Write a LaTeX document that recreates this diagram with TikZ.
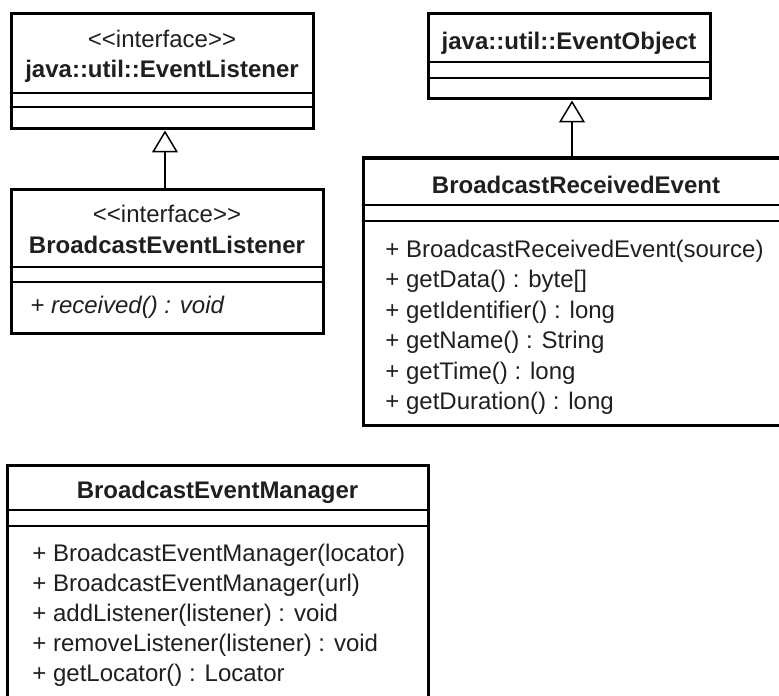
\documentclass[tikz,border=0pt]{standalone}
\usepackage{fontspec}
\setmainfont{Liberation Sans}
\usetikzlibrary{arrows.meta}

\begin{document}
\begin{tikzpicture}[x=0.5pt, y=-0.5pt, font=\fontsize{12}{15}\selectfont]
                \clip (0,0) rectangle (779,695);
                % class boxes
                \begin{scope}[every node/.style={draw, line width=1.5pt, rectangle, inner sep=0}]
                        \node[minimum width=151pt, minimum height=57.5pt] (EL) at (162,71.5) {};
                        \node[minimum width=156pt, minimum height=72pt] (BEL) at (167,261) {};
                        \node[minimum width=141pt, minimum height=42.5pt] (EO) at (569,56.5) {};
                        \node[minimum width=213.5pt, minimum height=133.5pt] (BRE) at (576.5,291.5) {};
                        \node[minimum width=210.5pt, minimum height=125pt] (BEM) at (217.5,590) {};
                \end{scope}
                % compartment lines
                \begin{scope}[every path/.style={line width=0.75pt}]
                        \draw (EL.west |- 0,93) -- (EL.east |- 0,93);
                        \draw (EL.west |- 0,107) -- (EL.east |- 0,107);
                        \draw (BEL.west |- 0,267) -- (BEL.east |- 0,267);
                        \draw (BEL.west |- 0,282) -- (BEL.east |- 0,282);
                        \draw (EO.west |- 0,62) -- (EO.east |- 0,62);
                        \draw (EO.west |- 0,78) -- (EO.east |- 0,78);
                        \draw (BRE.west |- 0,205) -- (BRE.east |- 0,205);
                        \draw (BRE.west |- 0,221) -- (BRE.east |- 0,221);
                        \draw (BEM.west |- 0,510) -- (BEM.east |- 0,510);
                        \draw (BEM.west |- 0,526) -- (BEM.east |- 0,526);
                \end{scope}
                % names and members
                \begin{scope}[every node/.style={inner sep=0, text=black!88}]
                        \node[anchor=base] (ELst) at (162,48) {<{}<interface>{}>};
                        \node[anchor=base, font=\fontsize{12}{15}\selectfont\bfseries] (ELnm) at (162,78) {java::util::EventListener};
                        \node[anchor=base] (BELst) at (167,222) {<{}<interface>{}>};
                        \node[anchor=base, font=\fontsize{12}{15}\selectfont\bfseries] (BELnm) at (167,253) {BroadcastEventListener};
                        \node[anchor=base west, font=\fontsize{12}{15}\selectfont\itshape] (BELm1) at (30,313) {+ received() : void};
                        \node[anchor=base, font=\fontsize{12}{15}\selectfont\bfseries] (EOnm) at (569,50) {java::util::EventObject};
                        \node[anchor=base, font=\fontsize{12}{15}\selectfont\bfseries] (BREnm) at (576,193) {BroadcastReceivedEvent};
                        \node[anchor=base west] (BREm1) at (385,257) {+ BroadcastReceivedEvent(source)};
                        \node[anchor=base west] (BREm2) at (385,287.5) {+ getData() : byte[]};
                        \node[anchor=base west] (BREm3) at (385,318) {+ getIdentifier() : long};
                        \node[anchor=base west] (BREm4) at (385,348.5) {+ getName() : String};
                        \node[anchor=base west] (BREm5) at (385,379) {+ getTime() : long};
                        \node[anchor=base west] (BREm6) at (385,409.5) {+ getDuration() : long};
                        \node[anchor=base, font=\fontsize{12}{15}\selectfont\bfseries] (BEMnm) at (217.5,498) {BroadcastEventManager};
                        \node[anchor=base west] (BEMm1) at (32,561) {+ BroadcastEventManager(locator)};
                        \node[anchor=base west] (BEMm2) at (32,591) {+ BroadcastEventManager(url)};
                        \node[anchor=base west] (BEMm3) at (32,621) {+ addListener(listener) : void};
                        \node[anchor=base west] (BEMm4) at (32,651) {+ removeListener(listener) : void};
                        \node[anchor=base west] (BEMm5) at (32,681) {+ getLocator() : Locator};
                \end{scope}
                % generalizations
                \begin{scope}[every path/.style={line width=0.75pt, -{Triangle[open, length=11pt, width=13pt]}}]
                        \path ([xshift=-1pt]BEL.north) edge ([xshift=-1pt]BEL.north |- EL.south);
                        \path ([xshift=1.5pt]EO.south |- BRE.north) edge ([xshift=1.5pt]EO.south);
                \end{scope}
\end{tikzpicture}
\end{document}
